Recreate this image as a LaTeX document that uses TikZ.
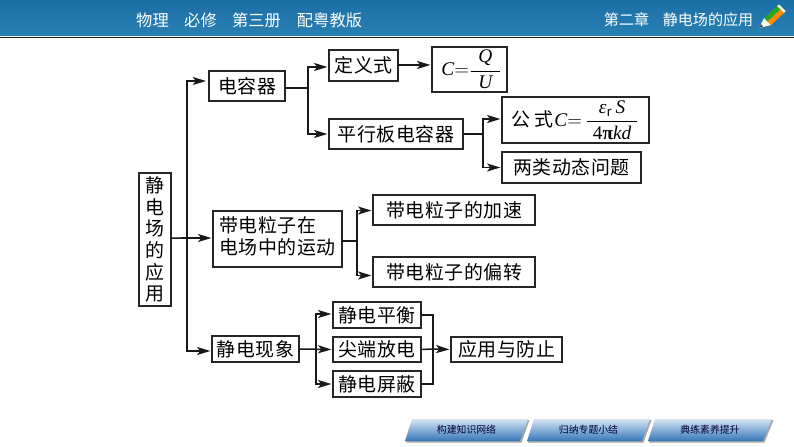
\documentclass[tikz,border=0pt]{standalone}
\usepackage{amsmath}
\usepackage{fontspec}
\setmainfont{Noto Sans CJK SC}[LetterSpace=3]
\newfontfamily\plaincjk{Noto Sans CJK SC}
\newfontfamily\formfont{Liberation Serif}
\newcommand\fvar[1]{\mbox{\formfont\itshape\fontsize{14.5}{16}\selectfont #1}}
\newcommand\fupr[1]{\mbox{\formfont\fontsize{14.5}{16}\selectfont #1}}
\newcommand\fbld[1]{\mbox{\formfont\bfseries\fontsize{14.5}{16}\selectfont #1}}
\usetikzlibrary{arrows.meta}
\definecolor{headtop}{HTML}{1C6EA6}
\definecolor{headbot}{HTML}{2880B2}
\definecolor{btntop}{HTML}{D6E4F3}
\definecolor{btnbot}{HTML}{3577BA}
\tikzset{
  boxnode/.style={draw=black!85,line width=1.15pt,inner sep=0pt,outer sep=0pt,align=center,font=\fontsize{14.2}{16.2}\selectfont,text=black},
  wire/.style={draw=black!90,line width=1.15pt},
  arrowwire/.style={wire,-{Stealth[length=10pt,width=6pt,inset=2.4pt]},shorten >=1.2pt},
  headtext/.style={text=white,inner sep=0pt,font=\plaincjk\fontsize{11.3}{13}\selectfont},
  headbig/.style={headtext,font=\plaincjk\fontsize{12.2}{14}\selectfont},
  btntext/.style={text=black!80!blue,inner sep=0pt,font=\plaincjk\fontsize{7.4}{9}\selectfont},
  btnface/.style={top color=btntop,bottom color=btnbot,middle color=btntop!50!btnbot},
  btnshadow/.style={fill=black!35},
}
% name, x1, y1, x2, y2, text
\newcommand\putbox[6]{%
  \pgfmathsetmacro\bw{(#4-#2)*0.75}\pgfmathsetmacro\bh{(#5-#3)*0.75}%
  \pgfmathsetmacro\cx{(#2+#4)/2}\pgfmathsetmacro\cy{(#3+#5)/2}%
  \node[boxnode,minimum width=\bw pt,minimum height=\bh pt] (#1) at (\cx,\cy) {#6};}
\newcommand\putbtn[5]{% name, bottom-left x, top-right x, bottom-right x, text
  \fill[btnshadow] (#2+1,442.5) -- (#2+8,420) -- (#3+1.5,420) -- (#4+1.5,442.5) -- cycle;
  \shade[btnface] (#2,441) -- (#2+7,419) -- (#3,419) -- (#4,441) -- cycle;
  \node[btntext] (#1) at ({(#2+#3)/2},430) {#5};}
\begin{document}
\begin{tikzpicture}[x=0.75pt,y=-0.75pt]
\useasboundingbox (0,0) rectangle (794,447);
\fill[white] (0,0) rectangle (794,447);
% header band
\shade[top color=headtop,bottom color=headbot] (0,0) rectangle (794,35);
\fill[black!85] (0,37) rectangle (794,38);
\node[headbig] (h1) at (152.5,20) {物理};
\node[headbig] (h2) at (200.5,20) {必修};
\node[headbig] (h3) at (256.5,20) {第三册};
\node[headbig] (h4) at (329.5,20) {配粤教版};
\node[headtext] (h5) at (626.5,20) {第二章};
\node[headtext] (h6) at (708,20) {静电场的应用};
% pencil
\fill[white!90!yellow] (759,28) -- (764,18) -- (771,25) -- cycle;
\fill[black!70] (759,28) -- (761,24) -- (763,26.5) -- cycle;
\fill[green!60!black!85] (764,18) -- (777,6) -- (780.5,9.5) -- (767.5,21.5) -- cycle;
\fill[orange!90!yellow] (767.5,21.5) -- (780.5,9.5) -- (784,13) -- (771,25) -- cycle;
\fill[white!85!yellow] (777,6) -- (779,4.5) -- (785.5,11) -- (784,13) -- cycle;
% boxes
\putbox{root}{139}{173}{171}{306}{静\\电\\场\\的\\应\\用}
\putbox{dr}{209}{71}{285}{101}{电容器}
\putbox{dy}{329}{50}{398}{81}{定义式}
\putbox{cq}{432}{47}{507}{92}{\hspace*{3pt}$\fvar{C}{=}\dfrac{\makebox[22pt]{\fvar{Q}}}{\fvar{U}}$}
\putbox{px}{329}{119}{463}{149}{平行板电容器}
\putbox{gs}{502}{97}{649}{143}{公\hspace{3pt}式\hspace{0.5pt}$\fvar{C}{=}\,\dfrac{\fvar{ε}_{\mathrm r}\,\fvar{S}}{\makebox[38pt]{\fupr{4}\fbld{π}\fvar{kd}}}$}
\putbox{lx}{502}{152}{641}{183}{两类动态问题}
\putbox{dl}{213}{211}{342}{267}{\begin{tabular}{@{}l@{}}带电粒子在\\电场中的运动\end{tabular}}
\putbox{js}{373}{195}{535}{225}{带电粒子的加速}
\putbox{pz}{373}{257}{535}{287}{带电粒子的偏转}
\putbox{xx}{212}{336}{299}{362}{静电现象}
\putbox{ph}{333}{302}{421}{328}{静电平衡}
\putbox{jd}{333}{337}{421}{362}{尖端放电}
\putbox{pb}{333}{371}{421}{397}{静电屏蔽}
\putbox{yy}{451}{337}{562}{362}{应用与防止}
% junctions
\coordinate (jroot) at (187,238);
\coordinate (jdr) at (308,88);
\coordinate (jpx) at (483,134);
\coordinate (jdl) at (357,241);
\coordinate (jxx) at (316,349);
\coordinate (jout) at (433,349);
% connectors
\draw[wire] ([yshift=1.1pt]root.east) -- (jroot);
\draw[arrowwire] (jroot) |- ([yshift=3.75pt,xshift=-1pt]dr.west);
\draw[arrowwire] (jroot) -- ([yshift=0.75pt]dl.west);
\draw[arrowwire] (jroot) |- ([yshift=-1.5pt]xx.west);
\draw[wire] ([yshift=-1.5pt]dr.east) -- (jdr);
\draw[arrowwire] (jdr) |- ([yshift=-1.1pt]dy.west);
\draw[arrowwire] (jdr) |- ([yshift=0.0pt]px.west);
\draw[arrowwire] ([yshift=0.4pt]dy.east) -- ([yshift=3.4pt]cq.west);
\draw[wire] (px.east) -- (jpx);
\draw[arrowwire] (jpx) |- ([yshift=0.75pt]gs.west);
\draw[arrowwire] (jpx) |- (lx.west);
\draw[wire] (dl.east |- jdl) -- (jdl);
\draw[arrowwire] (jdl) |- ([yshift=-0.4pt]js.west);
\draw[arrowwire] (jdl) |- ([yshift=-2.6pt]pz.west);
\draw[arrowwire] (xx.east) -- (jd.west);
\draw[arrowwire] (jxx) |- ([yshift=0.75pt]ph.west);
\draw[arrowwire] (jxx) |- ([yshift=0pt]pb.west);
\draw[wire] (ph.east) -| (jout);
\draw[wire] (pb.east) -| (jout);
\draw[wire] (jd.east) -- (jout);
\draw[arrowwire] (jout) -- (yy.west);
% buttons
\putbtn{b1}{405}{528}{520}{构建知识网络}
\putbtn{b2}{527}{650}{642}{归纳专题小结}
\putbtn{b3}{648}{772}{763}{典练素养提升}
\end{tikzpicture}
\end{document}
